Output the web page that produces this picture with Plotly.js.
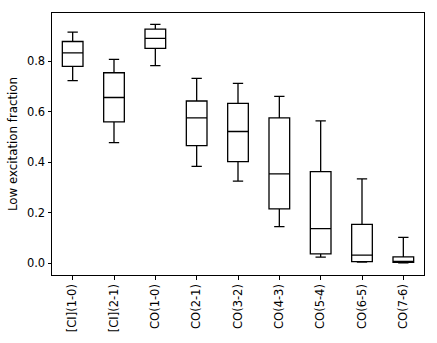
<!DOCTYPE html>
<html>
<head>
<meta charset="utf-8">
<script src="https://cdn.plot.ly/plotly-3.0.1.min.js"></script>
<style>
  html, body { margin: 0; padding: 0; background: #fff; }
  #chart { width: 437px; height: 343px; }
</style>
</head>
<body>
<div id="chart"></div>
<script>
// transitions
var lines = ['[CI](1-0)', '[CI](2-1)', 'CO(1-0)', 'CO(2-1)', 'CO(3-2)',
             'CO(4-3)', 'CO(5-4)', 'CO(6-5)', 'CO(7-6)'];

var lowWhisker  = [0.724, 0.478, 0.783, 0.384, 0.325, 0.145, 0.024, 0.004, 0.001];
var lowQuartile = [0.780, 0.560, 0.852, 0.466, 0.403, 0.215, 0.037, 0.006, 0.003];
var medians     = [0.834, 0.657, 0.891, 0.576, 0.522, 0.354, 0.137, 0.032, 0.004];
var highQuartile= [0.879, 0.755, 0.928, 0.643, 0.634, 0.576, 0.363, 0.154, 0.025];
var highWhisker = [0.916, 0.808, 0.947, 0.733, 0.713, 0.661, 0.564, 0.334, 0.102];

var trace = {
  type: 'box',
  x: lines,
  q1: lowQuartile,
  median: medians,
  q3: highQuartile,
  lowerfence: lowWhisker,
  upperfence: highWhisker,
  line: {color: 'black', width: 1.3},
  fillcolor: 'rgba(255,255,255,0)',
  whiskerwidth: 0.5,
  boxpoints: false,
  hoverinfo: 'none',
  showlegend: false
};

var layout = {
  width: 437,
  height: 343,
  margin: {l: 52, r: 13, t: 13, b: 68},
  paper_bgcolor: 'white',
  plot_bgcolor: 'white',
  font: {family: 'DejaVu Sans', size: 11.5, color: 'black'},
  boxgap: 0.5,
  boxgroupgap: 0,
  xaxis: {
    type: 'category',
    range: [-0.5, 8.5],
    tickangle: -90,
    ticks: 'outside',
    ticklen: 3.5,
    tickcolor: 'black',
    showline: true,
    linecolor: 'black',
    linewidth: 1,
    mirror: true,
    showgrid: false,
    zeroline: false
  },
  yaxis: {
    range: [-0.047, 0.992],
    tickvals: [0, 0.2, 0.4, 0.6, 0.8],
    tickformat: '.1f',
    ticks: 'outside',
    ticklen: 3.5,
    tickcolor: 'black',
    showline: true,
    linecolor: 'black',
    linewidth: 1,
    mirror: true,
    showgrid: false,
    zeroline: false,
    title: {text: 'Low excitation fraction', standoff: 6,
            font: {family: 'DejaVu Sans', size: 11.8, color: 'black'}}
  }
};

Plotly.newPlot('chart', [trace], layout, {staticPlot: true});
</script>
</body>
</html>
